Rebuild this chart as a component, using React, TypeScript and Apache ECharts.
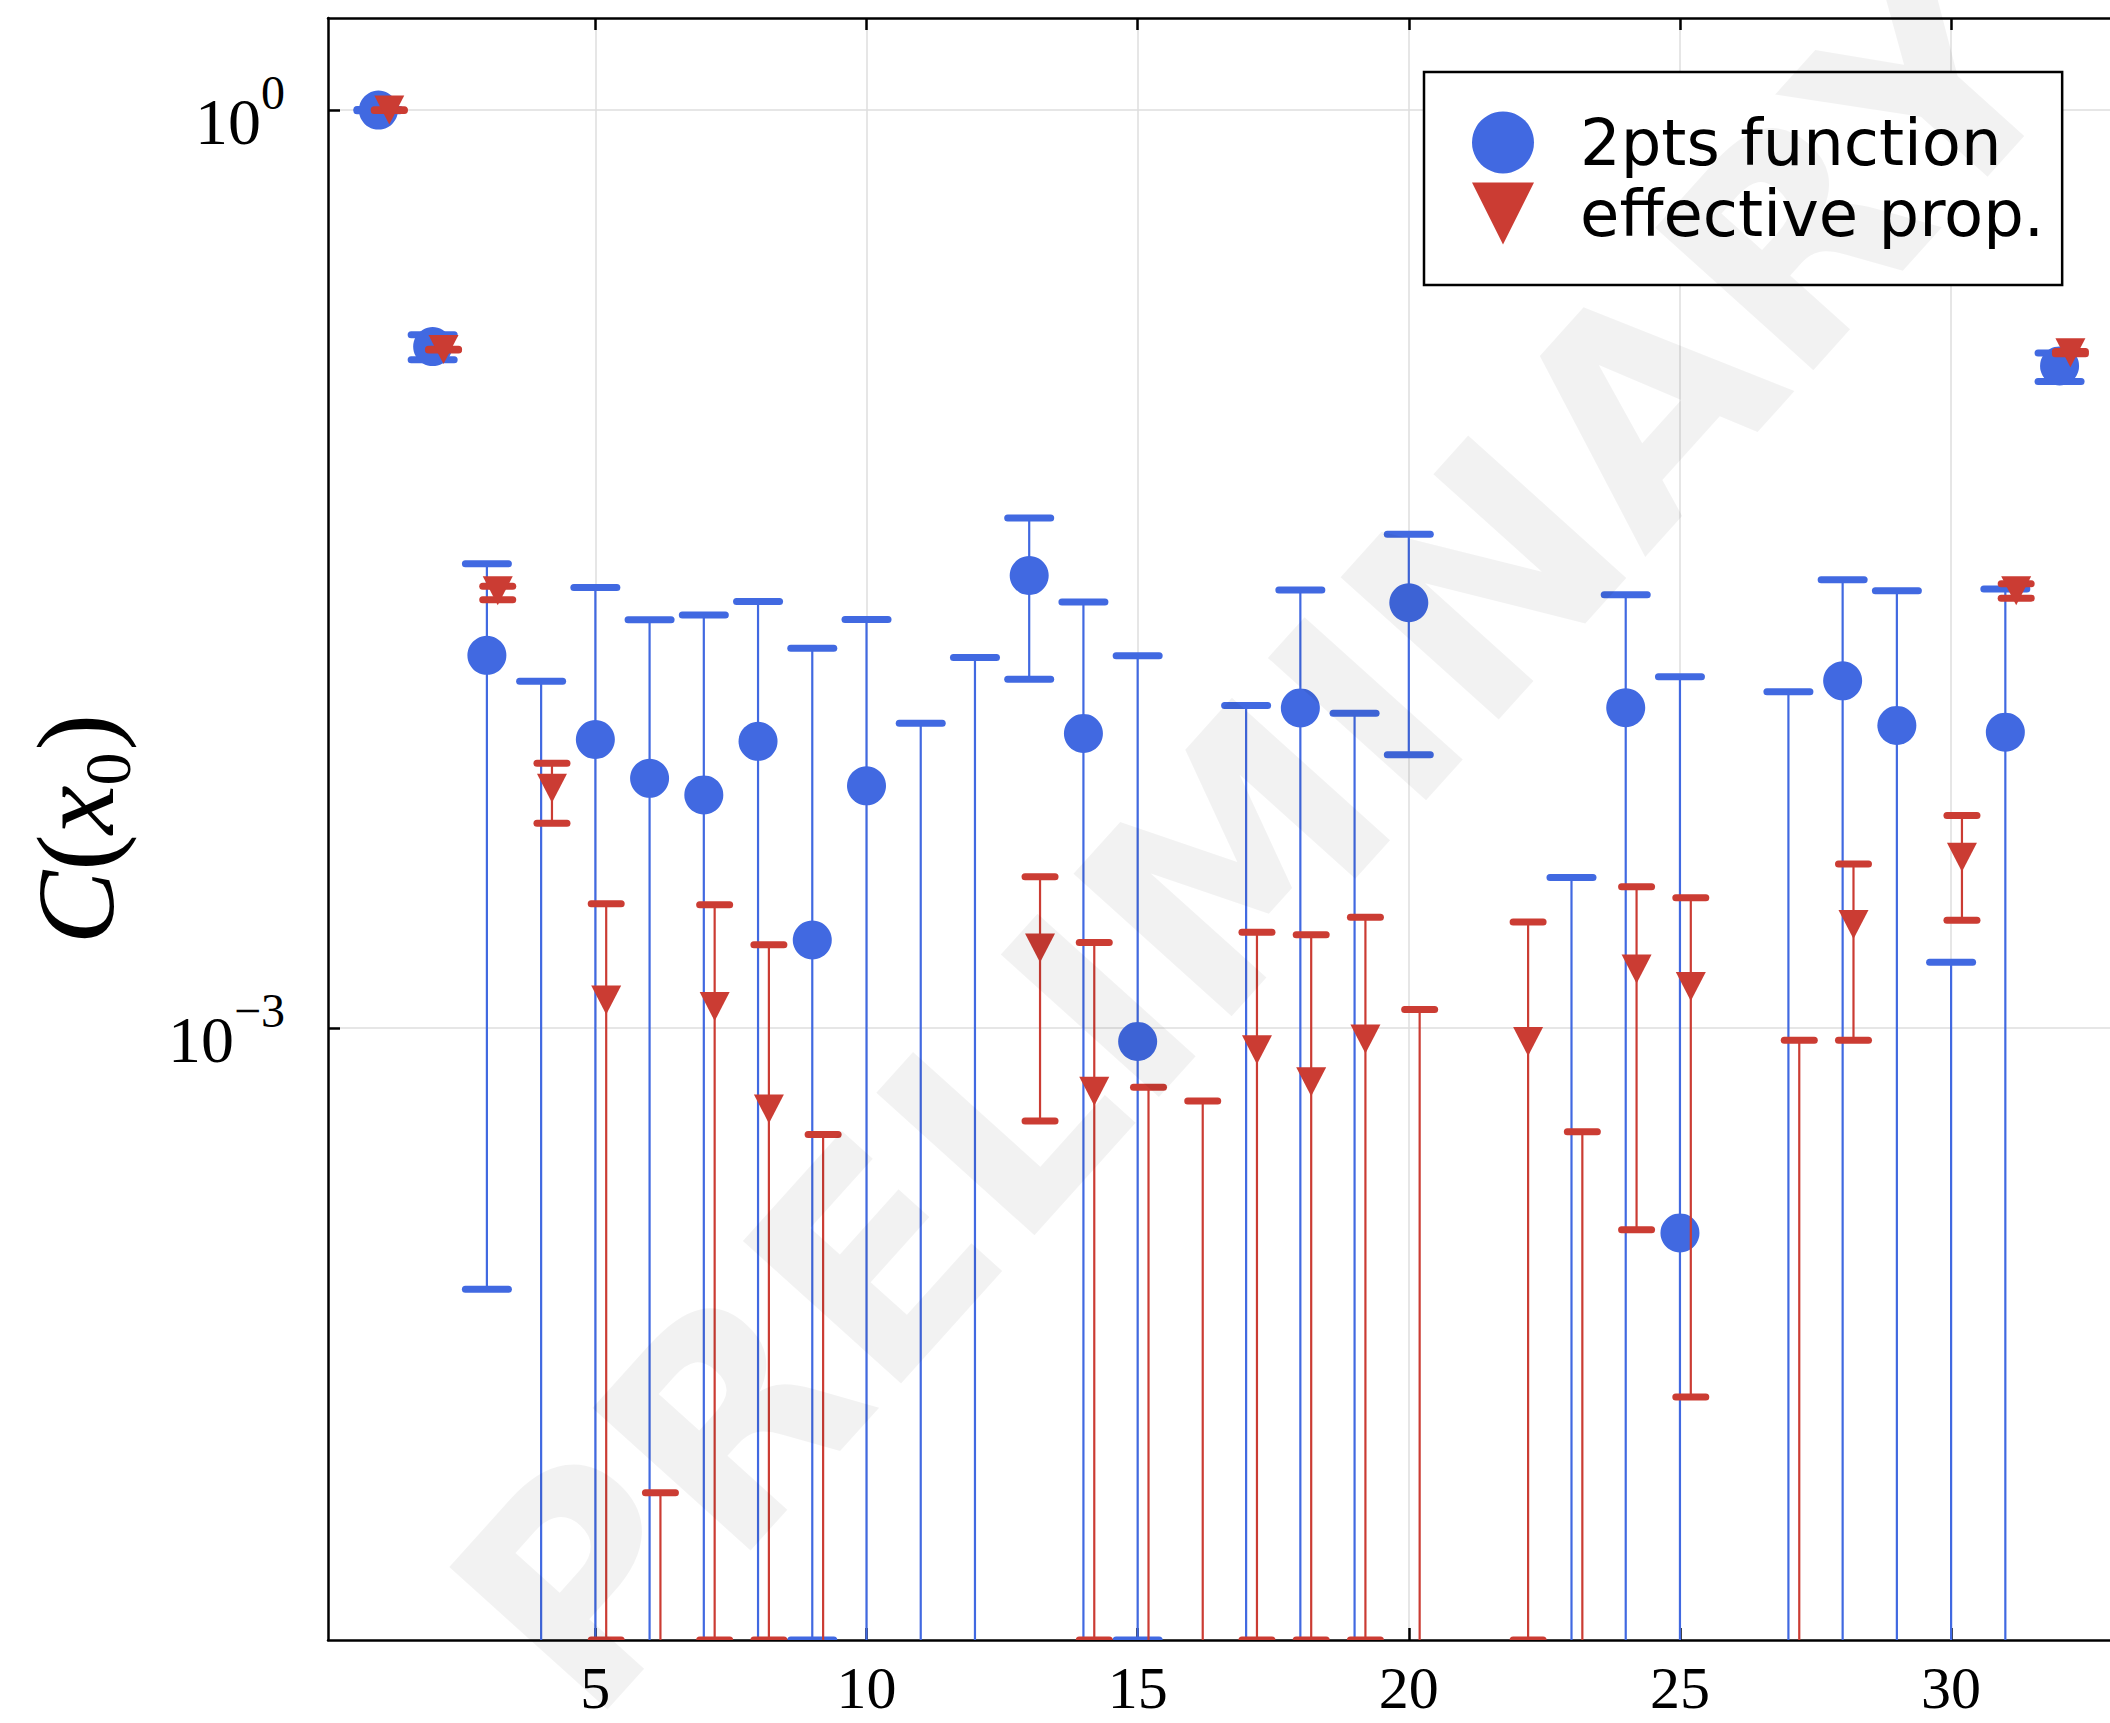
import React, { useEffect, useRef } from "react";
import * as echarts from "echarts";

// Lattice separations x0 = 1..32
const xPositions = Array.from({ length: 32 }, (_, i) => i + 1);

// 2pts function: central value, upper and lower end of the error bar.
// null value = non-positive estimate (no marker on a log axis);
// lower 0 = error bar runs below the axis range.
const twoPtsValue: (number | null)[] = [
  1.0, 0.1687, 0.01652, null, 0.00877, 0.00655, 0.00578, 0.00865,
  0.00194, 0.00619, null, null, 0.03013, 0.00918, 0.000904, null,
  null, 0.01112, null, 0.02455, null, null, null, 0.01114,
  0.000214, null, null, 0.01364, 0.00975, null, 0.00927, 0.1459,
];
const twoPtsUpper: (number | null)[] = [
  1.005, 0.1845, 0.0329, 0.01359, 0.02754, 0.02158, 0.02239, 0.02477,
  0.01742, 0.02163, 0.00991, 0.01626, 0.04645, 0.02466, 0.01648, null,
  0.01132, 0.02704, 0.01069, 0.04111, null, null, 0.003105, 0.02606,
  0.01406, null, 0.01257, 0.02917, 0.02687, 0.00164, 0.02723, 0.1609,
];
const twoPtsLower: (number | null)[] = [
  0.995, 0.1527, 0.00014, 0, 0, 0, 0, 0,
  1e-5, 0, 0, 0, 0.0138, 0, 1e-5, null,
  0, 0, 0, 0.00782, null, null, 0, 0,
  0, null, 0, 0, 0, 0, 0, 0.1297,
];

// Effective propagator, plotted slightly to the right of each x0
const effPropValue: (number | null)[] = [
  1.0, 0.165, 0.02685, 0.00608, 0.001236, null, 0.001175, 0.000544,
  null, null, null, null, 0.001828, 0.000621, null, null,
  0.000849, 0.000667, 0.000921, null, null, 0.000903, null, 0.00156,
  0.001368, null, null, 0.002178, null, 0.003614, 0.02684, 0.1612,
];
const effPropUpper: (number | null)[] = [
  1.003, 0.1655, 0.0278, 0.00733, 0.002547, 3.03e-5, 0.00253, 0.00187,
  0.000449, null, null, null, 0.00312, 0.001905, 0.00064, 0.000578,
  0.002056, 0.002018, 0.0023, 0.00115, null, 0.002223, 0.000458, 0.002897,
  0.002667, null, 0.000912, 0.003436, null, 0.004955, 0.0283, 0.1625,
];
const effPropLower: (number | null)[] = [
  0.997, 0.1645, 0.0251, 0.00467, 1e-5, 0, 1e-5, 1e-5,
  0, null, null, null, 0.000497, 1e-5, 0, 0,
  1e-5, 1e-5, 1e-5, 0, null, 1e-5, 0, 0.000219,
  6.22e-5, null, 0, 0.000912, null, 0.002249, 0.0254, 0.16,
];

const xTicks = [5, 10, 15, 20, 25, 30];
const yTickExponents = [-3, 0];

const X_MIN = 0.07;
const X_MAX = 32.93;
const Y_MIN = 1e-5;
const Y_MAX = 2;
const EFF_SHIFT = 0.2;

const BLUE = "#4169E1";
const RED = "#CB3C33";
const SERIF = "'Liberation Serif', 'DejaVu Serif', serif";
const SANS = "'DejaVu Sans', sans-serif";

const lg = (v: number) => Math.log10(v);

function scatterData(values: (number | null)[], shift: number) {
  const out: number[][] = [];
  values.forEach((v, i) => {
    if (v !== null && v > 0) out.push([xPositions[i] + shift, lg(v)]);
  });
  return out;
}

function errorData(
  upper: (number | null)[],
  lower: (number | null)[],
  shift: number
) {
  const out: (number | string)[][] = [];
  upper.forEach((u, i) => {
    if (u === null || u <= 0) return;
    const lo = lower[i];
    out.push([xPositions[i] + shift, lg(u), lo !== null && lo > 0 ? lg(lo) : "-"]);
  });
  return out;
}

function errorBarRenderer(color: string, capWidth: number, lineWidth: number) {
  const capThick = 7;
  return (params: any, api: any) => {
    const x = api.value(0);
    const up = api.value(1);
    const lo = api.value(2);
    if (isNaN(up)) return null;
    const cs = params.coordSys;
    const bottom = cs.y + cs.height;
    const top = api.coord([x, up]);
    const cx = top[0];
    const hasLow = !isNaN(lo);
    const lowY = hasLow ? api.coord([x, lo])[1] : bottom + 20;
    const half = capWidth / 2 - capThick / 2;
    const children: any[] = [
      {
        type: "line",
        shape: { x1: cx, y1: top[1], x2: cx, y2: lowY },
        style: { stroke: color, lineWidth },
      },
      {
        type: "line",
        shape: { x1: cx - half, y1: top[1], x2: cx + half, y2: top[1] },
        style: { stroke: color, lineWidth: capThick, lineCap: "round" },
      },
    ];
    if (hasLow) {
      children.push({
        type: "line",
        shape: { x1: cx - half, y1: lowY, x2: cx + half, y2: lowY },
        style: { stroke: color, lineWidth: capThick, lineCap: "round" },
      });
    }
    return {
      type: "group",
      children,
      clipPath: {
        type: "rect",
        shape: { x: cs.x, y: cs.y, width: cs.width, height: cs.height },
      },
    };
  };
}

const TRIANGLE_DOWN = "path://M0,0L10,0L5,10Z";

export default function App() {
  const ref = useRef<HTMLDivElement>(null);

  useEffect(() => {
    if (!ref.current) return;
    const chart = echarts.init(ref.current, undefined, { renderer: "svg" });

    const axisLineStyle = { color: "#000", width: 2.5 };
    const tickStyle = { color: "#000", width: 2.5 };
    const gridLine = { color: "#dedede", width: 1.5 };
    const yMin = lg(Y_MIN);
    const yMax = lg(Y_MAX);

    const option: any = {
      animation: false,
      backgroundColor: "#fff",
      grid: { left: 328, top: 18, width: 1787, height: 1622 },
      xAxis: [
        {
          type: "value",
          min: X_MIN,
          max: X_MAX,
          position: "bottom",
          axisLine: { show: true, onZero: false, lineStyle: axisLineStyle },
          axisTick: { show: true, inside: true, length: 12, customValues: xTicks, lineStyle: tickStyle },
          axisLabel: {
            show: true,
            customValues: xTicks,
            margin: 24,
            fontFamily: SERIF,
            fontSize: 60,
            lineHeight: 48,
            color: "#000",
            formatter: (v: number) => String(Math.round(v)),
          },
          splitLine: { show: true, lineStyle: gridLine },
        },
        {
          type: "value",
          min: X_MIN,
          max: X_MAX,
          position: "top",
          axisLine: { show: true, onZero: false, lineStyle: axisLineStyle },
          axisTick: { show: true, inside: true, length: 12, customValues: xTicks, lineStyle: tickStyle },
          axisLabel: { show: false },
          splitLine: { show: false },
        },
      ],
      yAxis: [
        {
          type: "value",
          min: yMin,
          max: yMax,
          position: "left",
          name: "{i|C}{n|(}{i|x}{s|0}{n|)}",
          nameLocation: "middle",
          nameRotate: 90,
          nameGap: 188,
          nameTextStyle: {
            color: "#000",
            rich: {
              i: { fontFamily: SERIF, fontStyle: "italic", fontSize: 110, color: "#000" },
              n: { fontFamily: SERIF, fontSize: 110, color: "#000" },
              s: { fontFamily: SERIF, fontSize: 66, color: "#000", padding: [62, 2, 0, 0] },
            },
          },
          axisLine: { show: true, onZero: false, lineStyle: axisLineStyle },
          axisTick: { show: true, inside: true, length: 12, customValues: yTickExponents, lineStyle: tickStyle },
          axisLabel: {
            show: true,
            customValues: yTickExponents,
            margin: 43,
            formatter: (v: number) => {
              const e = Math.round(v);
              const exp = e < 0 ? "\u2212" + String(-e) : String(e);
              return "{b|10}{s|" + exp + "}";
            },
            rich: {
              b: { fontFamily: SERIF, fontSize: 66, color: "#000", padding: [22, 0, 0, 0] },
              s: { fontFamily: SERIF, fontSize: 48, color: "#000", padding: [0, 0, 36, 0] },
            },
          },
          splitLine: { show: true, lineStyle: gridLine },
        },
      ],
      legend: {
        show: true,
        orient: "vertical",
        left: 1424,
        top: 72,
        padding: [35, 18, 36, 48],
        itemGap: 0,
        itemWidth: 62,
        itemHeight: 62,
        borderColor: "#000",
        borderWidth: 2.5,
        borderRadius: 0,
        backgroundColor: "#fff",
        z: 10,
        selectedMode: false,
        textStyle: {
          fontFamily: SANS,
          fontSize: 64,
          color: "#000",
          lineHeight: 71,
          padding: [0, 0, 0, 41],
        },
        data: [
          { name: "2pts function", icon: "circle" },
          { name: "effective prop.", icon: TRIANGLE_DOWN },
        ],
      },
      series: [
        {
          name: "2pts function errors",
          type: "custom",
          z: 2,
          silent: true,
          renderItem: errorBarRenderer(BLUE, 50, 2.2),
          encode: { x: 0, y: [1, 2] },
          data: errorData(twoPtsUpper, twoPtsLower, 0),
        },
        {
          name: "2pts function",
          type: "scatter",
          z: 3,
          silent: true,
          symbol: "circle",
          symbolSize: 39,
          itemStyle: { color: BLUE, opacity: 1 },
          data: scatterData(twoPtsValue, 0),
        },
        {
          name: "effective prop. errors",
          type: "custom",
          z: 4,
          silent: true,
          renderItem: errorBarRenderer(RED, 37, 2.2),
          encode: { x: 0, y: [1, 2] },
          data: errorData(effPropUpper, effPropLower, EFF_SHIFT),
        },
        {
          name: "effective prop.",
          type: "scatter",
          z: 5,
          silent: true,
          symbol: TRIANGLE_DOWN,
          symbolSize: [30, 29],
          itemStyle: { color: RED, opacity: 1 },
          data: scatterData(effPropValue, EFF_SHIFT),
        },
      ],
      graphic: [
        {
          type: "text",
          x: 1258,
          y: 836,
          rotation: (48 * Math.PI) / 180,
          z: 100,
          silent: true,
          style: {
            text: "PRELIMINARY",
            fontFamily: SANS,
            fontWeight: "bold",
            fontSize: 292,
            fill: "rgba(0,0,0,0.05)",
            align: "center",
            verticalAlign: "middle",
            textAlign: "center",
            textVerticalAlign: "middle",
          },
        },
      ],
    };

    chart.setOption(option);
    return () => chart.dispose();
  }, []);

  return (
    <div
      ref={ref}
      style={{ position: "absolute", left: 0, top: 0, width: 2110, height: 1723, background: "#fff" }}
    />
  );
}
